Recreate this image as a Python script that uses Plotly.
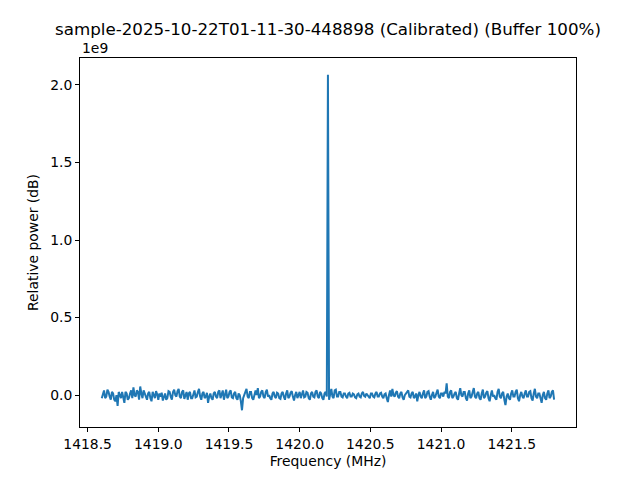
import numpy as np
import plotly.graph_objects as go

# Frequency axis (MHz): first and last bin
freq_start = 1418.6
freq_stop = 1421.8

# Relative power in units of 1e9
power_1e9 = [
    -0.02, 0.01, 0.03, -0.02, -0.01, 0.035, 0.02, -0.01, -0.03, 0.02,
    0.01, -0.03, -0.04, 0.00, -0.07, 0.02, 0.00, -0.02, 0.02, -0.01,
    -0.05, 0.02, 0.01, -0.03, -0.02, 0.01, 0.03, -0.02, 0.05, 0.00,
    -0.01, 0.03, 0.02, -0.03, 0.055, 0.01, -0.02, 0.03, 0.01, -0.02,
    -0.03, 0.01, 0.02, -0.02, -0.04, 0.02, 0.00, -0.02, 0.025, 0.005,
    -0.03, 0.01, -0.01, 0.015, -0.035, -0.005, 0.01, -0.03, -0.02, 0.025,
    0.02, -0.01, -0.03, 0.02, 0.035, 0.00, -0.01, 0.025, 0.04, -0.01,
    -0.02, 0.02, 0.03, -0.025, 0.00, 0.02, -0.03, 0.01, 0.02, -0.02,
    -0.02, 0.01, 0.03, -0.015, -0.01, 0.02, 0.04, -0.01, -0.03, 0.01,
    0.02, -0.02, -0.01, 0.015, -0.05, -0.01, 0.01, -0.02, -0.03, 0.01,
    0.02, -0.01, -0.02, 0.02, 0.03, -0.02, 0.01, 0.03, -0.03, 0.00,
    0.035, -0.02, -0.01, 0.02, 0.03, -0.015, -0.02, 0.01, 0.02, -0.02,
    -0.03, 0.01, 0.00, -0.04, -0.098, -0.02, 0.01, 0.02, 0.04, -0.01,
    -0.02, 0.02, 0.02, -0.02, -0.03, 0.01, 0.03, 0.00, 0.045, -0.02,
    -0.01, 0.02, 0.03, -0.01, -0.02, 0.02, 0.035, -0.01, 0.00, -0.02,
    -0.03, 0.01, 0.02, -0.01, -0.02, 0.015, 0.01, -0.02, -0.025, 0.01,
    0.02, -0.01, -0.03, 0.01, 0.03, -0.02, -0.01, 0.015, 0.025, -0.01,
    -0.035, 0.00, 0.02, -0.02, 0.00, 0.02, -0.02, 0.01, 0.03, -0.015,
    -0.01, 0.02, 0.015, -0.02, -0.03, 0.01, 0.02, -0.01, -0.015, 0.02,
    0.03, -0.01, -0.02, 0.02, 0.01, -0.02, -0.03, 0.01, 0.02, -0.01,
    2.066,
    -0.03, 0.02, 0.04, -0.01, -0.02, 0.03, 0.035, -0.01, -0.01, 0.02,
    0.02, -0.01, -0.015, 0.01, 0.01, -0.01, -0.02, 0.01, 0.015, -0.01,
    -0.01, 0.01, 0.005, -0.015, -0.02, 0.005, 0.01, -0.01, -0.015, 0.01,
    0.02, -0.005, -0.01, 0.01, 0.0, -0.015, -0.02, 0.01, 0.01, -0.01,
    -0.015, 0.01, 0.02, -0.01, -0.01, 0.01, 0.015, -0.01, -0.02, 0.005,
    0.01, -0.02, -0.045, 0.00, 0.03, -0.01, 0.04, 0.00, -0.01, 0.015,
    0.025, -0.01, -0.02, 0.01, 0.02, -0.015, -0.03, 0.00, 0.01, 0.02,
    0.03, -0.01, -0.015, 0.01, 0.02, -0.02, -0.01, 0.01, -0.04, 0.00,
    0.02, -0.01, -0.02, 0.01, 0.03, -0.02, -0.01, 0.02, 0.025, -0.01,
    -0.03, 0.00, 0.02, -0.02, -0.01, 0.015, 0.035, -0.01, -0.02, 0.01,
    0.01, -0.01, 0.02, 0.01, 0.075, -0.01, -0.02, 0.02, 0.03, -0.02,
    -0.01, 0.01, 0.02, -0.02, -0.03, 0.01, 0.045, 0.00, -0.01, 0.02,
    0.02, -0.02, -0.035, 0.01, 0.03, -0.02, -0.01, 0.02, 0.045, -0.01,
    -0.02, 0.01, 0.02, -0.02, -0.03, 0.01, 0.035, -0.02, -0.01, 0.015,
    0.025, -0.02, -0.04, 0.00, 0.03, -0.01, 0.00, -0.02, -0.03, 0.02,
    0.04, -0.01, -0.02, 0.01, 0.02, -0.03, -0.065, -0.01, 0.01, -0.02,
    -0.03, 0.01, 0.03, -0.01, -0.01, 0.02, 0.035, -0.02, -0.04, 0.00,
    0.02, -0.01, -0.02, 0.01, 0.03, -0.01, -0.01, 0.02, 0.025, -0.02,
    -0.035, 0.01, 0.04, -0.01, -0.02, 0.01, 0.01, -0.02, -0.05, 0.00,
    0.02, -0.02, -0.03, 0.01, 0.03, -0.02, -0.01, 0.02, 0.03, -0.03,
]

x_ticks = [1418.5, 1419.0, 1419.5, 1420.0, 1420.5, 1421.0, 1421.5]
y_ticks = [0.0, 0.5, 1.0, 1.5, 2.0]

title_text = "sample-2025-10-22T01-11-30-448898 (Calibrated) (Buffer 100%)"

freqs = np.linspace(freq_start, freq_stop, len(power_1e9))

FONT = "DejaVu Sans"

fig = go.Figure()
fig.add_trace(go.Scatter(
    x=freqs, y=power_1e9, mode="lines",
    line=dict(color="#1f77b4", width=2),
    hoverinfo="skip", showlegend=False,
))

axis_common = dict(
    showgrid=False, zeroline=False,
    showline=True, mirror=True, linecolor="black", linewidth=1,
    ticks="outside", ticklen=4, tickwidth=1, tickcolor="black",
    tickfont=dict(family=FONT, size=13.9, color="black"),
    tickformat=".1f",
)

# page body has an 8px margin, so shrink the figure to keep the plot area in place
fig.update_layout(
    width=632, height=472,
    margin=dict(l=72, r=64, t=50, b=53),
    paper_bgcolor="white", plot_bgcolor="white",
    font=dict(family=FONT, color="black"),
    title=dict(
        text=title_text, x=(328 - 8) / 632, xanchor="center",
        y=1 - (29 - 8) / 472, yanchor="middle", yref="container",
        font=dict(family=FONT, size=16.7, color="black"),
    ),
    xaxis=dict(
        range=[1418.446, 1421.955], tickvals=x_ticks,
        title=dict(text="Frequency (MHz)", font=dict(family=FONT, size=13.9), standoff=5),
        **axis_common,
    ),
    yaxis=dict(
        range=[-0.206, 2.174], tickvals=y_ticks,
        title=dict(text="Relative power (dB)", font=dict(family=FONT, size=13.9), standoff=8),
        **axis_common,
    ),
    annotations=[dict(
        text="1e9", xref="paper", yref="paper", x=0, y=1,
        xanchor="left", yanchor="bottom", showarrow=False, yshift=0,
        font=dict(family=FONT, size=13.9, color="black"),
    )],
)

fig.write_html("out.html", config={"displayModeBar": False})
